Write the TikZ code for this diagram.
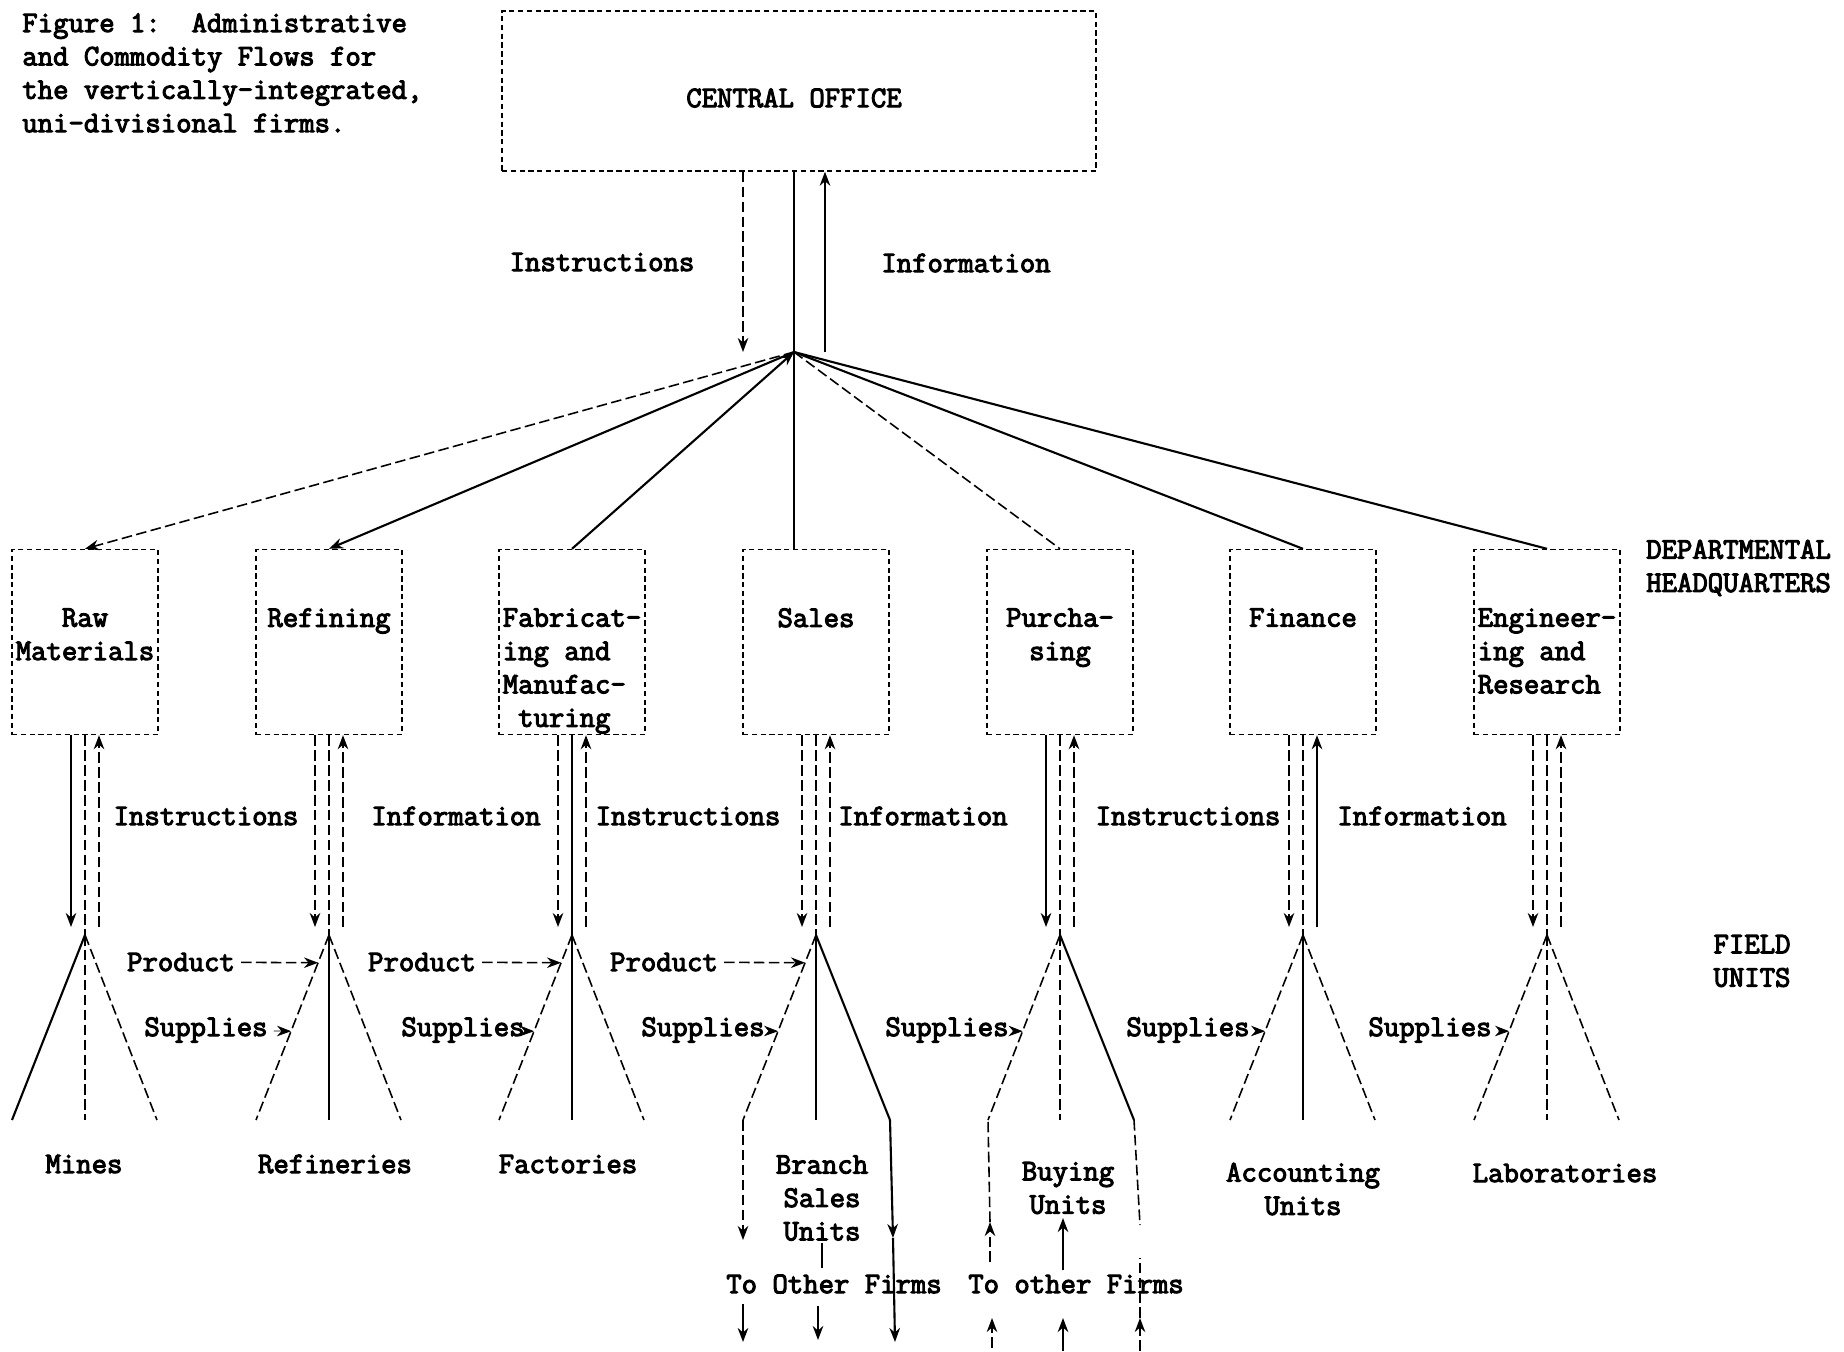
\documentclass[tikz,border=0pt]{standalone}
\usepackage{fontspec}
\setmonofont{Latin Modern Mono}[AutoFakeBold=3.5]
\usetikzlibrary{arrows.meta,calc}
\tikzset{
  deptbox/.style={draw,densely dashed,line width=0.8pt,minimum width=2.92cm,minimum height=3.7cm},
  depttext/.style={anchor=north,inner sep=0pt},
  unit/.style={align=center,inner sep=1pt},
  flow/.style={line width=1.2pt},
  faint/.style={line width=0.9pt,dash pattern=on 6pt off 2.5pt},
  >={Stealth[length=8pt,width=6pt]},
}

\begin{document}
\begin{tikzpicture}[x=0.2mm,y=-0.2mm,font=\ttfamily\bfseries\fontsize{17}{19}\selectfont,>={Stealth[length=8pt,width=6pt]}]
  \useasboundingbox (0,0) rectangle (1844,1351);
  \node[anchor=north west,align=left,inner sep=0pt] (caption) at (22,13)
    {Figure 1:\ \ Administrative\\and Commodity Flows for\\the vertically-integrated,\\uni-divisional firms.};
  \node[draw,densely dashed,line width=0.8pt,minimum width=11.88cm,minimum height=3.2cm] (co) at (799,91) {};
  \node (co-t) at (794,98) {CENTRAL OFFICE};
  \coordinate (hub) at (794,352);
  \node (instr0) at (602,262) {Instructions};
  \node (info0)  at (966,263) {Information};

  % departmental headquarters
  \node[deptbox] (raw) at (85,642)   {};
  \node[deptbox] (ref) at (329,642)  {};
  \node[deptbox] (fab) at (572,642)  {};
  \node[deptbox] (sal) at (816,642)  {};
  \node[deptbox] (pur) at (1060,642) {};
  \node[deptbox] (fin) at (1303,642) {};
  \node[deptbox] (eng) at (1547,642) {};
  \node[depttext,align=center] (raw-t) at (85,608)   {Raw\\Materials};
  \node[depttext,align=center] (ref-t) at (329,608)  {Refining};
  \node[depttext,align=left]   (fab-t) at (572,608)  {Fabricat-\\ing and\\Manufac-\\\ turing};
  \node[depttext,align=center] (sal-t) at (816,608)  {Sales};
  \node[depttext,align=center] (pur-t) at (1060,608) {Purcha-\\sing};
  \node[depttext,align=center] (fin-t) at (1303,608) {Finance};
  \node[depttext,align=left]   (eng-t) at (1547,608) {Engineer-\\ing and\\Research};
  \node[anchor=west,align=left] (depthq) at (1640,568) {DEPARTMENTAL\\HEADQUARTERS};
  \node[align=center] (field) at (1752,961) {FIELD\\UNITS};

  % central office to departments
  \draw[faint,->] ($(hub |- co.south)+(-51,0)$) -- ($(hub)+(-51,0)$);
  \draw[flow,->] ($(hub)+(31,0)$) -- ($(hub |- co.south)+(31,0)$);
  \draw[flow] (hub |- co.south) -- (hub) -- (hub |- sal.north);
  \path[->]
    (hub) edge[faint] (raw.north)
    (hub) edge[flow] (ref.north)
    (fab.north) edge[flow] (hub)
    (hub) edge[faint,-] (pur.north)
    (hub) edge[flow,-] (fin.north)
    (hub) edge[flow,-] (eng.north);

  % field units
  \coordinate (j1) at (85,935);   \coordinate (l1) at (12,1120);   \coordinate (m1) at (85,1120);   \coordinate (r1) at (157,1120);
  \coordinate (j2) at (329,935);  \coordinate (l2) at (256,1120);  \coordinate (m2) at (329,1120);  \coordinate (r2) at (401,1120);
  \coordinate (j3) at (572,935);  \coordinate (l3) at (499,1120);  \coordinate (m3) at (572,1120);  \coordinate (r3) at (644,1120);
  \coordinate (j4) at (816,935);  \coordinate (l4) at (743,1120);  \coordinate (m4) at (816,1120);  \coordinate (r4) at (890,1120);
  \coordinate (j5) at (1060,935); \coordinate (l5) at (988,1120);  \coordinate (m5) at (1060,1120); \coordinate (r5) at (1134,1120);
  \coordinate (j6) at (1303,935); \coordinate (l6) at (1230,1120); \coordinate (m6) at (1303,1120); \coordinate (r6) at (1375,1120);
  \coordinate (j7) at (1547,935); \coordinate (l7) at (1474,1120); \coordinate (m7) at (1547,1120); \coordinate (r7) at (1619,1120);

  \path[->]
    ($(raw.south)+(-14,0)$) edge[flow]  ($(j1)+(-14,-8)$)
    ($(j1)+(14,-8)$)        edge[faint] ($(raw.south)+(14,0)$)
    ($(ref.south)+(-14,0)$) edge[faint] ($(j2)+(-14,-8)$)
    ($(j2)+(14,-8)$)        edge[faint] ($(ref.south)+(14,0)$)
    ($(fab.south)+(-14,0)$) edge[faint] ($(j3)+(-14,-8)$)
    ($(j3)+(14,-8)$)        edge[faint] ($(fab.south)+(14,0)$)
    ($(sal.south)+(-14,0)$) edge[faint] ($(j4)+(-14,-8)$)
    ($(j4)+(14,-8)$)        edge[faint] ($(sal.south)+(14,0)$)
    ($(pur.south)+(-14,0)$) edge[flow]  ($(j5)+(-14,-8)$)
    ($(j5)+(14,-8)$)        edge[faint] ($(pur.south)+(14,0)$)
    ($(fin.south)+(-14,0)$) edge[faint] ($(j6)+(-14,-8)$)
    ($(j6)+(14,-8)$)        edge[flow]  ($(fin.south)+(14,0)$)
    ($(eng.south)+(-14,0)$) edge[faint] ($(j7)+(-14,-8)$)
    ($(j7)+(14,-8)$)        edge[faint] ($(eng.south)+(14,0)$);

  \path
    (raw.south) edge[faint] (j1)  (j1) edge[flow] (l1)   (j1) edge[faint] (m1)  (j1) edge[faint] (r1)
    (ref.south) edge[faint] (j2)  (j2) edge[faint] (l2)  (j2) edge[flow] (m2)   (j2) edge[faint] (r2)
    (fab.south) edge[flow] (j3)   (j3) edge[faint] (l3)  (j3) edge[flow] (m3)   (j3) edge[faint] (r3)
    (sal.south) edge[faint] (j4)  (j4) edge[faint] (l4)  (j4) edge[flow] (m4)   (j4) edge[flow] (r4)
    (pur.south) edge[faint] (j5)  (j5) edge[faint] (l5)  (j5) edge[faint] (m5)  (j5) edge[flow] (r5)
    (fin.south) edge[faint] (j6)  (j6) edge[faint] (l6)  (j6) edge[flow] (m6)   (j6) edge[faint] (r6)
    (eng.south) edge[faint] (j7)  (j7) edge[faint] (l7)  (j7) edge[faint] (m7)  (j7) edge[faint] (r7);

  \node (ins1) at (206,816)  {Instructions};
  \node (inf1) at (456,816)  {Information};
  \node (ins2) at (688,816)  {Instructions};
  \node (inf2) at (923,816)  {Information};
  \node (ins3) at (1188,816) {Instructions};
  \node (inf3) at (1422,816) {Information};

  \node (prod1) at (181,962) {Product};
  \node (prod2) at (422,962) {Product};
  \node (prod3) at (664,962) {Product};
  \draw[faint,->] (prod1) -- ($(j2)!0.15!(l2)$);
  \draw[faint,->] (prod2) -- ($(j3)!0.15!(l3)$);
  \draw[faint,->] (prod3) -- ($(j4)!0.15!(l4)$);

  \node (sup1) at (206,1030)  {Supplies};
  \node (sup2) at (463,1030)  {Supplies};
  \node (sup3) at (703,1030)  {Supplies};
  \node (sup4) at (947,1030)  {Supplies};
  \node (sup5) at (1188,1030) {Supplies};
  \node (sup6) at (1430,1030) {Supplies};
  \draw[->] (sup1) -- ($(j2)!0.52!(l2)$);
  \draw[->] (sup2) -- ($(j3)!0.52!(l3)$);
  \draw[->] (sup3) -- ($(j4)!0.52!(l4)$);
  \draw[->] (sup4) -- ($(j5)!0.52!(l5)$);
  \draw[->] (sup5) -- ($(j6)!0.52!(l6)$);
  \draw[->] (sup6) -- ($(j7)!0.52!(l7)$);

  \node[unit] (mines)      at (84,1164)   {Mines};
  \node[unit] (refineries) at (335,1164)  {Refineries};
  \node[unit] (factories)  at (568,1164)  {Factories};
  \node[unit] (branch)     at (822,1198)  {Branch\\Sales\\Units};
  \node[unit] (buying)     at (1068,1188) {Buying\\Units};
  \node[unit] (accounting) at (1303,1189) {Accounting\\Units};
  \node[unit] (labs)       at (1565,1173) {Laboratories};

  % flows to and from other firms
  \node (tosales) at (834,1284)  {To Other Firms};
  \node (tobuy)   at (1076,1284) {To other Firms};
  \coordinate (sa1) at (743,1240); \coordinate (sa2) at (743,1304); \coordinate (sa3) at (743,1342);
  \coordinate (sb1) at (818,1306); \coordinate (sb2) at (818,1340);
  \coordinate (sc1) at (893,1238); \coordinate (sc2) at (895,1342);
  \coordinate (bl0) at (990,1262); \coordinate (bl1) at (990,1222); \coordinate (bl2) at (992,1318); \coordinate (bl3) at (992,1348);
  \coordinate (bc0) at (1063,1270); \coordinate (bc1) at (1063,1218); \coordinate (bc2) at (1063,1318); \coordinate (bc3) at (1063,1351);
  \coordinate (br0) at (1140,1258); \coordinate (br1) at (1140,1225); \coordinate (br2) at (1140,1318); \coordinate (br3) at (1140,1351);
  \draw[faint,->] (l4) -- (sa1);
  \draw[flow,->] (sa2) -- (sa3);
  \draw[flow] (branch.south) -- (branch.south |- tosales.north);
  \draw[flow,->] (sb1) -- (sb2);
  \draw[flow,->] (r4) -- (sc1);
  \draw[flow,->] (sc1) -- (sc2);
  \draw[faint,->] (bl0) -- (bl1);
  \draw[faint] (bl1) -- (l5);
  \draw[faint,->] (bl3) -- (bl2);
  \draw[flow,->] (bc0) -- (bc1);
  \draw[flow,->] (bc3) -- (bc2);
  \draw[faint] (r5) -- (br1);
  \draw[faint,->] (br3) -- (br2);
  \draw[faint] (br2) -- (br0);
\end{tikzpicture}
\end{document}
